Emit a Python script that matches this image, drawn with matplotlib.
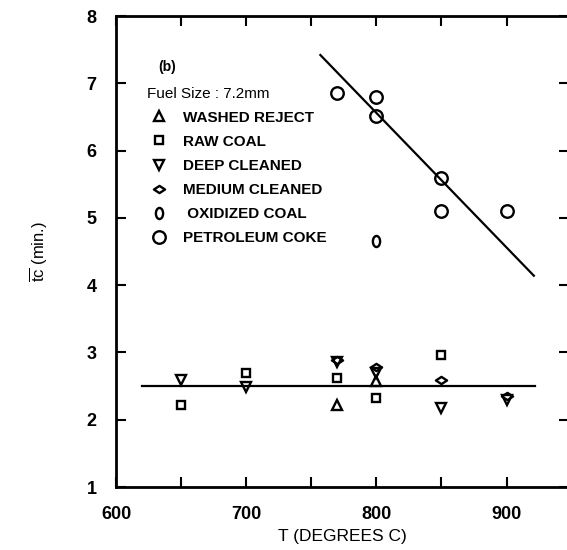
import numpy as np
import matplotlib
matplotlib.use('Agg')
import matplotlib.pyplot as plt
from matplotlib.path import Path
from matplotlib.lines import Line2D
from matplotlib.ticker import MultipleLocator

# data
washed_t = [770, 800]
washed_tc = [2.22, 2.58]

raw_t = [650, 700, 770, 800, 850]
raw_tc = [2.22, 2.69, 2.62, 2.33, 2.96]

deep_t = [650, 700, 770, 800, 850, 900]
deep_tc = [2.59, 2.49, 2.86, 2.70, 2.17, 2.29]

medium_t = [770, 800, 850, 900]
medium_tc = [2.89, 2.78, 2.59, 2.35]

oxid_t = [800]
oxid_tc = [4.66]

coke_t = [770, 800, 800, 850, 850, 900]
coke_tc = [6.85, 6.79, 6.51, 5.59, 5.10, 5.10]

coke_fit_t = [757, 921]
coke_fit_tc = [7.42, 4.14]
flat_fit_t = [620, 922]
flat_fit_tc = [2.5, 2.5]

plt.rcParams['font.family'] = ['Liberation Sans', 'DejaVu Sans']
plt.rcParams['mathtext.fontset'] = 'custom'
plt.rcParams['mathtext.rm'] = 'Liberation Sans'

circ = Path.unit_circle()
ellipse = Path(circ.vertices * np.array([0.65, 1.0]), circ.codes)
wide_diamond = Path([(-1, 0), (0, 0.65), (1, 0), (0, -0.65), (-1, 0)],
                    [Path.MOVETO, Path.LINETO, Path.LINETO, Path.LINETO, Path.CLOSEPOLY])

fig = plt.figure(figsize=(5.67, 5.5), dpi=100)
ax = fig.add_axes([116 / 567, 1 - 487 / 550, 453 / 567, 471 / 550])

st = dict(ls='none', mfc='none', mec='black', color='black', mew=1.7)
ax.plot(washed_t, washed_tc, marker='^', ms=7, **st)
ax.plot(raw_t, raw_tc, marker='s', ms=6, **st)
ax.plot(deep_t, deep_tc, marker='v', ms=7, **st)
ax.plot(medium_t, medium_tc, marker=wide_diamond, ms=8, **st)
ax.plot(oxid_t, oxid_tc, marker=ellipse, ms=8, **st)
ax.plot(coke_t, coke_tc, marker='o', ms=9, **st)

ax.plot(coke_fit_t, coke_fit_tc, color='black', lw=1.6)
ax.plot(flat_fit_t, flat_fit_tc, color='black', lw=1.6)

ax.set_xlim(600, 948)
ax.set_ylim(1, 8)
ax.xaxis.set_major_locator(MultipleLocator(100))
ax.xaxis.set_minor_locator(MultipleLocator(50))
ax.yaxis.set_major_locator(MultipleLocator(1))
ax.tick_params(which='both', direction='in', top=True, right=True,
               length=7, width=1.5, pad=14)
ax.tick_params(axis='both', labelsize=13)
for lab in ax.get_xticklabels() + ax.get_yticklabels():
    lab.set_fontweight('bold')
for s in ax.spines.values():
    s.set_linewidth(2)

ax.set_xlabel('T (DEGREES C)', fontsize=12.5, labelpad=4)
ax.set_ylabel(r'$\overline{\mathrm{tc}}$ (min.)', fontsize=12, labelpad=26)

ax.text(0.093, 0.892, '(b)', transform=ax.transAxes, fontsize=10,
        fontweight='bold', va='center')

names = ['WASHED REJECT', 'RAW COAL', 'DEEP CLEANED', 'MEDIUM CLEANED',
         ' OXIDIZED COAL', 'PETROLEUM COKE']
handles = [Line2D([], [], marker='^', ms=7, **st),
           Line2D([], [], marker='s', ms=6, **st),
           Line2D([], [], marker='v', ms=7, **st),
           Line2D([], [], marker=wide_diamond, ms=8, **st),
           Line2D([], [], marker=ellipse, ms=8, **st),
           Line2D([], [], marker='o', ms=9, **st)]
leg = ax.legend(handles, names, loc='upper left', bbox_to_anchor=(0.068, 0.85),
                frameon=False, borderpad=0, borderaxespad=0, handlelength=1.57,
                handletextpad=0.78, labelspacing=0.66, numpoints=1,
                prop={'weight': 'bold', 'size': 11},
                title='Fuel Size : 7.2mm', title_fontproperties={'size': 11},
                alignment='left')

fig.savefig('out.png', dpi=100)
